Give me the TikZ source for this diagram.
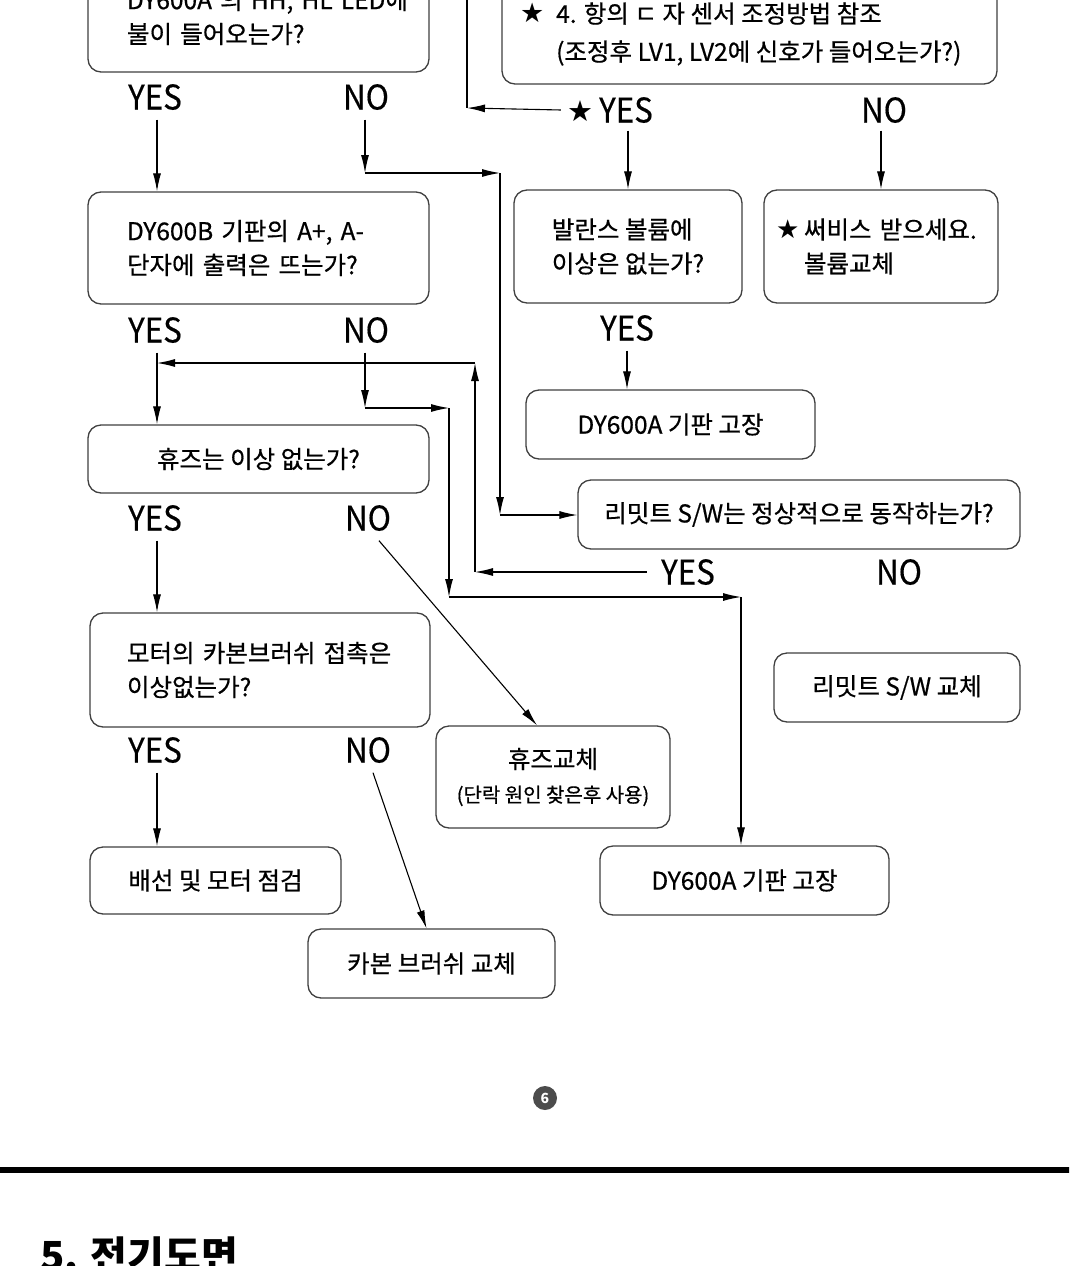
\documentclass[tikz,border=0pt]{standalone}
\usepackage{fontspec}
\setmainfont{Noto Sans CJK KR}
\newfontfamily\krfont{Noto Sans CJK KR}[FakeBold=0.6]
\newfontfamily\lblfont{Noto Sans CJK KR}[FakeStretch=0.92,FakeBold=0.4]
\newfontfamily\dvfont{DejaVu Sans}
\usetikzlibrary{arrows.meta,calc}
\newcommand{\bigstarsym}[1]{{\dvfont\fontsize{#1}{#1}\selectfont ★}}
\begin{document}
\begin{tikzpicture}[x=1pt,y=-1pt,
  box/.style={draw=black!75, line width=1.3pt, rounded corners=13pt, inner sep=0pt, font=\krfont\fontsize{24.5}{34}\selectfont},
  lbl/.style={font=\lblfont\fontsize{34}{34}\selectfont, inner sep=0pt, text height=25pt, text depth=0pt},
  arr/.style={line width=1.1pt, -{Latex[length=18pt,width=8pt]}},
  ln/.style={line width=1.1pt}]
\useasboundingbox (0,0) rectangle (1069,1266);
\clip (0,0) rectangle (1069,1266);
\fill[white] (0,0) rectangle (1069,1266);

% boxes
\node[box, minimum width=341pt, minimum height=110pt, text width=263pt, align=left] (b1) at (258.5,17) {\mbox{DY600A 의 HH, HL LED에}\\불이 들어오는가?};
\node[box, minimum width=495pt, minimum height=150pt] (r1) at (749.5,9) {};
\node[font=\krfont\fontsize{24.5}{38}\selectfont, align=left, anchor=west, inner sep=0pt] (r1t) at (520,34) {\makebox[36pt][l]{\bigstarsym{27}}4. 항의 ㄷ 자 센서 조정방법 참조\\\hspace*{36pt}(조정후 LV1, LV2에 신호가 들어오는가?)};
\node[box, minimum width=228pt, minimum height=113pt, align=left] (bal) at (628,246.5) {발란스 볼륨에\\이상은 없는가?};
\node[box, minimum width=234pt, minimum height=113pt, text width=210pt, align=left] (svc) at (881,246.5) {\mbox{\makebox[28pt][l]{\bigstarsym{26}}써비스 받으세요.}\\\hspace*{28pt}볼륨교체};
\node[box, minimum width=341pt, minimum height=112pt, text width=263pt, align=left] (b2) at (258.5,248) {\mbox{DY600B 기판의 A+, A-}\\단자에 출력은 뜨는가?};
\node[box, minimum width=341pt, minimum height=68pt] (b3) at (258.5,459) {휴즈는 이상 없는가?};
\node[box, minimum width=289pt, minimum height=69pt] (dyA) at (670.5,424.5) {DY600A 기판 고장};
\node[box, minimum width=442pt, minimum height=69pt] (lim) at (799,514.5) {리밋트 S/W는 정상적으로 동작하는가?};
\node[box, minimum width=340pt, minimum height=114pt, text width=266pt, align=left] (b4) at (260,670) {\mbox{모터의 카본브러쉬 접촉은}\\이상없는가?};
\node[box, minimum width=246pt, minimum height=69pt] (limr) at (897,687.5) {리밋트 S/W 교체};
\node[box, minimum width=234pt, minimum height=102pt, align=center] (fuse) at (553,777) {휴즈교체\\{\fontsize{20}{20}\selectfont (단락 원인 찾은후 사용)}};
\node[box, minimum width=289pt, minimum height=69pt] (dyB) at (744.5,880.5) {DY600A 기판 고장};
\node[box, minimum width=251pt, minimum height=67pt] (wir) at (215.5,880.5) {배선 및 모터 점검};
\node[box, minimum width=247pt, minimum height=69pt] (carb) at (431.5,963.5) {카본 브러쉬 교체};

% labels
\node[lbl] (y1) at (155,97) {YES};
\node[lbl] (n1) at (366,97) {NO};
\node[lbl] (ry) at (610,110) {\raisebox{1.5pt}{\bigstarsym{29}}\hspace{6pt}YES};
\node[lbl] (rn) at (884,110) {NO};
\node[lbl] (y2) at (155,330) {YES};
\node[lbl] (n2) at (366,330) {NO};
\node[lbl] (by) at (627,328) {YES};
\node[lbl] (y3) at (155,518) {YES};
\node[lbl] (n3) at (368,518) {NO};
\node[lbl] (ly) at (688,572) {YES};
\node[lbl] (lno) at (899,572) {NO};
\node[lbl] (y4) at (155,750) {YES};
\node[lbl] (n4) at (368,750) {NO};

% corner coordinates
\coordinate (c0t) at (467,-5);
\coordinate (c0) at (467,108);
\coordinate (c1) at (365,173);
\coordinate (c2) at (500,173);
\coordinate (c3) at (500,515);
\coordinate (c4) at (475,572);
\coordinate (c5) at (475,363);
\coordinate (c6) at (365,408);
\coordinate (c7) at (449,408);
\coordinate (c8) at (449,597);
\coordinate (c9) at (741,597);

% connectors
\draw[ln] (c0t) -- (c0);
\draw[arr] ([xshift=-6pt]ry.west) -- (c0);
\draw[arr, shorten <=10pt] ([xshift=2pt]y1.south) -- ([xshift=2pt]y1.south |- b2.north);
\draw[arr, shorten <=10pt] (n1.south -| c1) -- (c1);
\draw[arr] (c1) -- (c2);
\draw[arr] (c2) -- (c3);
\draw[arr] (c3) -- (c3 -| lim.west);
\draw[arr, shorten <=8pt] (ry.south -| bal.north) -- (bal.north);
\draw[arr, shorten <=8pt] (rn.south -| svc.north) -- (svc.north);
\draw[arr, shorten <=10pt] ([xshift=2pt]y2.south) -- ([xshift=2pt]y2.south |- b3.north);
\draw[arr] ([xshift=-14pt]ly.west) -- (c4);
\draw[arr] (c4) -- (c5);
\draw[arr] (c5) -- ([xshift=2pt]c5 -| y2.south);
\draw[arr, shorten <=10pt] (n2.south -| c6) -- (c6);
\draw[arr] (c6) -- (c7);
\draw[arr] (c7) -- (c8);
\draw[arr] (c8) -- (c9);
\draw[arr] (c9) -- (c9 |- dyB.north);
\draw[arr, shorten <=10pt] (by.south) -- (by.south |- dyA.north);
\draw[arr, shorten <=10pt] ([xshift=2pt]y3.south) -- ([xshift=2pt]y3.south |- b4.north);
\draw[arr] ([xshift=11pt,yshift=-10pt]n3.south) -- ([xshift=-16pt]fuse.north);
\draw[arr, shorten <=10pt] ([xshift=2pt]y4.south) -- ([xshift=2pt]y4.south |- wir.north);
\draw[arr] ([xshift=5pt,yshift=-10pt]n4.south) -- ([xshift=-5pt]carb.north);

% page footer
\node[circle, fill=black!70, minimum size=24pt, inner sep=0pt, text=white, font=\fontsize{14}{14}\selectfont\bfseries] (pg) at (545,1098) {6};
\draw[line width=6pt] (-5,1169.5) -- (1075,1169.5);
\node[anchor=base west, inner sep=0pt, font=\fontsize{40}{40}\selectfont\bfseries] (h5) at (40,1270) {5. 전기도면};
\end{tikzpicture}
\end{document}
